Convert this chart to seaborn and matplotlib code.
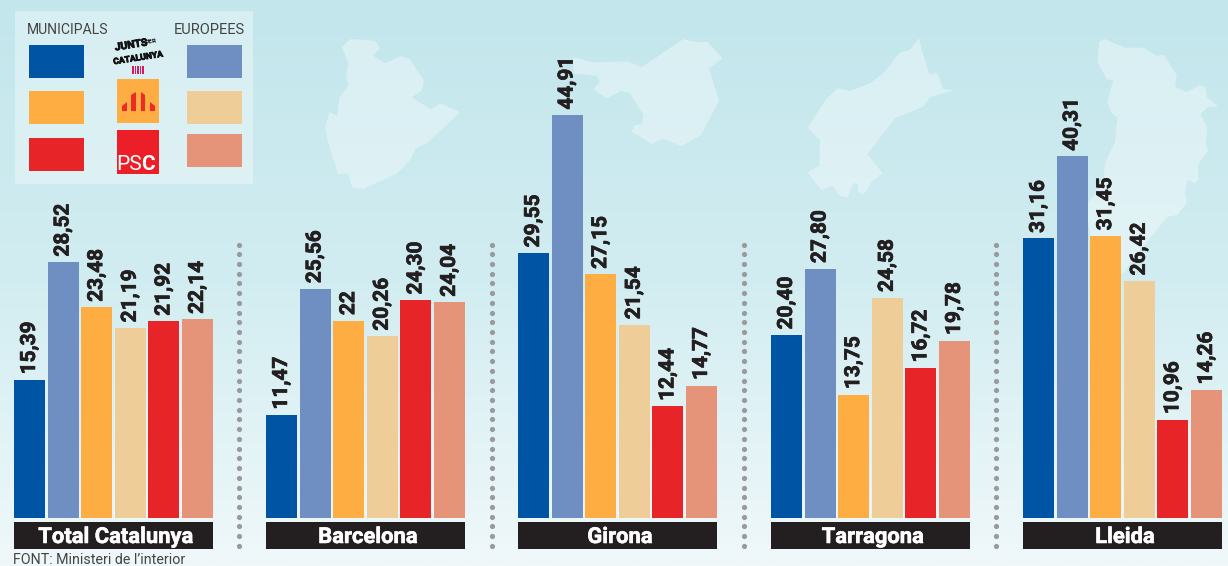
import numpy as np
import pandas as pd
import matplotlib
matplotlib.use("Agg")
import matplotlib.pyplot as plt
import matplotlib.patheffects as pe
from matplotlib.patches import Polygon, Rectangle
import seaborn as sns

W, H = 1228, 566

zones = ["Total Catalunya", "Barcelona", "Girona", "Tarragona", "Lleida"]
series = ["JxCat M", "JxCat E", "ERC M", "ERC E", "PSC M", "PSC E"]
total_catalunya = [15.39, 28.52, 23.48, 21.19, 21.92, 22.14]
barcelona = [11.47, 25.56, 22, 20.26, 24.30, 24.04]
girona = [29.55, 44.91, 27.15, 21.54, 12.44, 14.77]
tarragona = [20.40, 27.80, 13.75, 24.58, 16.72, 19.78]
lleida = [31.16, 40.31, 31.45, 26.42, 10.96, 14.26]
colors = ["#0054a4", "#6f8fc3", "#fdad42", "#efcd98", "#e72529", "#e59379"]

map_barcelona = [(125, 80), (152, 57), (225, 62), (240, 85), (220, 107), (255, 130), (303, 108), (330, 117),
                 (372, 183), (365, 212), (335, 232), (392, 268), (422, 250), (480, 277), (380, 370), (347, 385),
                 (332, 418), (292, 460), (190, 507), (158, 503), (143, 460), (115, 462), (85, 370), (75, 323),
                 (88, 277), (112, 287), (118, 235), (145, 195), (138, 165), (145, 130)]
map_girona = [(820, 112), (880, 127), (985, 124), (1025, 142), (1150, 57), (1190, 67), (1222, 65), (1268, 115),
              (1227, 145), (1257, 243), (1203, 345), (1143, 378), (1087, 355), (1057, 372), (995, 335), (1003, 317),
              (1027, 312), (1030, 285), (990, 220), (965, 212), (920, 235), (880, 208), (900, 185), (890, 167),
              (820, 160)]
map_tarragona = [(388, 55), (395, 90), (418, 163), (442, 158), (460, 207), (490, 211), (420, 232), (400, 260),
                 (315, 295), (232, 402), (278, 460), (245, 485), (220, 525), (205, 517), (203, 490), (190, 490),
                 (172, 533), (150, 527), (127, 497), (95, 510), (53, 458), (88, 437), (90, 362), (53, 323),
                 (110, 235), (143, 205), (180, 213), (240, 190), (280, 160), (330, 97), (358, 90)]
map_lleida = [(928, 65), (945, 57), (1005, 83), (1060, 83), (1100, 107), (1122, 105), (1160, 165), (1155, 200),
              (1190, 217), (1230, 195), (1247, 203), (1250, 230), (1285, 260), (1255, 260), (1232, 282), (1252, 325),
              (1247, 370), (1254, 393), (1223, 435), (1226, 478), (1215, 490), (1193, 478), (1185, 520), (1190, 548),
              (1163, 585), (1133, 590), (1050, 690), (1000, 760), (900, 760), (900, 640), (885, 560), (940, 490),
              (945, 430), (975, 365), (982, 292), (965, 280), (952, 245), (970, 180), (950, 178), (922, 125)]


def to_pixels(points, dx, dy):
    return [(dx + x / 3, dy + y / 3) for x, y in points]


def fmt(v):
    if v == int(v):
        return str(int(v))
    return f"{v:.2f}".replace(".", ",")


def draw_background(ax):
    grad = np.linspace(0, 1, 256).reshape(-1, 1)
    cmap = matplotlib.colors.LinearSegmentedColormap.from_list(
        "bg", ["#c2e6ec", "#d2edf1", "#f0f8fa"]
    )
    ax.imshow(grad, extent=(0, W, H, 0), aspect="auto", cmap=cmap, zorder=0)
    ax.set_xlim(0, W)
    ax.set_ylim(H, 0)
    ax.axis("off")
    maps = [(map_barcelona, 300, 20), (map_girona, 300, 20), (map_tarragona, 790, 20), (map_lleida, 790, 20)]
    for pts, dx, dy in maps:
        ax.add_patch(Polygon(to_pixels(pts, dx, dy), fc="white", ec="none", alpha=0.36, zorder=1))


def draw_legend(ax):
    ax.add_patch(Rectangle((15, 11), 238, 173, fc="white", ec="none", alpha=0.35, zorder=2))
    ax.text(27, 30, "MUNICIPALS", family="Roboto", fontsize=10.1, color="#444444",
            va="center", ha="left", zorder=3)
    ax.text(245, 30, "EUROPEES", family="Roboto", fontsize=10.5, color="#444444", va="center", ha="right", zorder=3)
    rows_m = [45, 91, 138]
    rows_e = [45, 91, 134]
    for i, y in enumerate(rows_m):
        ax.add_patch(Rectangle((29, y), 55, 33, fc=colors[i * 2], ec="none", zorder=3))
    for i, y in enumerate(rows_e):
        ax.add_patch(Rectangle((187, y), 55, 33, fc=colors[i * 2 + 1], ec="none", zorder=3))

    # logos
    heavy = [pe.withStroke(linewidth=0.6, foreground="#111111")]
    ax.text(131, 45, "JUNTS", family="Roboto", weight="bold", fontsize=7.5, color="#111111", rotation=9,
            ha="center", va="center", zorder=3, path_effects=heavy)
    ax.text(151, 42, "PER", family="Roboto", weight="bold", fontsize=4.5, color="#111111", rotation=9,
            ha="center", va="center", zorder=3)
    ax.text(138, 58, "CATALUNYA", family="Roboto", weight="bold", fontsize=6.2, color="#111111", rotation=9,
            ha="center", va="center", zorder=3, path_effects=heavy)
    for x in [133, 135.5, 138, 140.5, 143]:
        ax.add_patch(Rectangle((x - 0.7, 66), 1.5, 8, fc="#d81b60", ec="none", zorder=3))
    ax.add_patch(Rectangle((117, 79), 42, 44, fc="#fdad42", ec="none", zorder=3))
    arches = [[(122, 111), (122, 106), (127, 102), (127, 111)], [(131, 111), (131, 95), (136, 92), (136, 111)],
              [(141, 111), (141, 92), (145, 95), (145, 111)], [(150, 111), (150, 102), (155, 106), (155, 111)]]
    for a in arches:
        ax.add_patch(Polygon(a, fc="#ee2a24", ec="none", zorder=4))
    ax.add_patch(Rectangle((117, 130), 42, 44, fc="#ec1f28", ec="none", zorder=3))
    ax.text(141.5, 170.5, "PS", family="Roboto", fontsize=15, color="white", ha="right", va="baseline", zorder=4)
    ax.text(141.5, 170.5, "C", family="Roboto", weight="bold", fontsize=15, color="white", ha="left",
            va="baseline", zorder=4)


def draw_panel(fig, values, left):
    df = pd.DataFrame({"serie": series, "valor": values})
    ax = fig.add_axes([(left - 1.3) / W, (H - 518) / H, 201.6 / W, 518 / H], zorder=5)
    ax.patch.set_alpha(0)
    sns.barplot(data=df, x="serie", y="valor", hue="serie", palette=colors, hue_order=series, saturation=1,
                width=0.923, linewidth=0, legend=False, ax=ax)
    ax.set_xlim(-0.5, 5.5)
    ax.set_ylim(0, 518 / 8.97)
    for cont, v in zip(ax.containers, values):
        lab = ax.bar_label(cont, labels=[fmt(v)], rotation=90, padding=4, family="Roboto", weight="bold",
                           fontsize=15, color="#231f20")
        lab[0].set_path_effects([pe.withStroke(linewidth=0.5, foreground="#231f20")])
    ax.axis("off")
    return ax


def draw_footer(ax, name, left):
    ax.add_patch(Rectangle((left, 522), 199, 27, fc="#231f20", ec="none", zorder=3))
    txt = ax.text(left + 102, 537, name, family="Roboto", weight="bold", fontsize=15.8, color="white",
                  ha="center", va="center", zorder=4)
    txt.set_path_effects([pe.withStroke(linewidth=0.4, foreground="white")])


if __name__ == "__main__":
    sns.set_theme(style="white")
    fig = plt.figure(figsize=(W / 100, H / 100), dpi=100)
    bg = fig.add_axes([0, 0, 1, 1], zorder=0)
    draw_background(bg)
    draw_legend(bg)

    lefts = [14, 266, 518, 771, 1023]
    panels = [total_catalunya, barcelona, girona, tarragona, lleida]
    for name, vals, left in zip(zones, panels, lefts):
        draw_panel(fig, vals, left)
        draw_footer(bg, name, left)

    for x in [239, 492, 744, 996]:
        bg.scatter([x] * 32, 244.5 + 9.72 * np.arange(32), s=14, color="#9a9a9e", linewidths=0, zorder=3)

    bg.text(13, 564.5, "FONT: Ministeri de l’interior", family="Roboto", fontsize=10.3, color="#444444",
            ha="left", va="baseline", zorder=3)
    fig.savefig("out.png", dpi=100)
